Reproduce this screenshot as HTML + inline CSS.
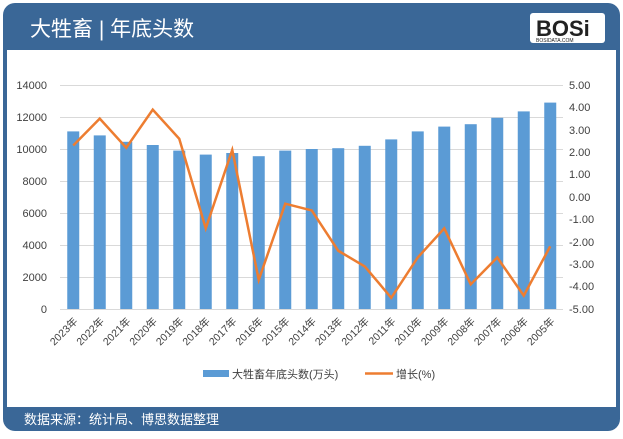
<!DOCTYPE html>
<html><head><meta charset="utf-8"><style>
body{margin:0;width:623px;height:434px;background:#fff;overflow:hidden;font-family:"Liberation Sans","Noto Sans CJK SC",sans-serif}
</style></head><body>
<svg width="623" height="434" xmlns="http://www.w3.org/2000/svg" font-family="Liberation Sans, Noto Sans CJK SC, sans-serif">
<rect x="3" y="3" width="617" height="428" rx="12" fill="#3a6797"/>
<rect x="7" y="50" width="609" height="357" fill="#fff"/>
<text x="30" y="36" fill="#fff" font-size="21">大牲畜 | 年底头数</text>
<rect x="530" y="13" width="75" height="30" rx="3" fill="#fff"/>
<text x="536" y="36" font-size="22" font-weight="bold" fill="#222">BOSi</text>
<text x="536" y="42" font-size="5" fill="#222">BOSIDATA.COM</text>
<text x="24" y="424" fill="#fff" font-size="13">数据来源：统计局、博思数据整理</text>
<g stroke="#d9d9d9" stroke-width="1">
<line x1="60" y1="85.5" x2="563" y2="85.5"/><line x1="60" y1="117.5" x2="563" y2="117.5"/>
<line x1="60" y1="149.5" x2="563" y2="149.5"/><line x1="60" y1="181.5" x2="563" y2="181.5"/>
<line x1="60" y1="213.5" x2="563" y2="213.5"/><line x1="60" y1="245.5" x2="563" y2="245.5"/>
<line x1="60" y1="277.5" x2="563" y2="277.5"/><line x1="60" y1="309.5" x2="563" y2="309.5"/>
</g>
<g font-size="11" fill="#404040" text-anchor="end">
<text x="47" y="89">14000</text><text x="47" y="121">12000</text><text x="47" y="153">10000</text>
<text x="47" y="185">8000</text><text x="47" y="217">6000</text><text x="47" y="249">4000</text>
<text x="47" y="281">2000</text><text x="47" y="313">0</text>
</g>
<g font-size="11" fill="#404040">
<text x="569" y="89">5.00</text><text x="569" y="111">4.00</text><text x="569" y="134">3.00</text>
<text x="569" y="156">2.00</text><text x="569" y="178">1.00</text><text x="569" y="201">0.00</text>
<text x="569" y="223">-1.00</text><text x="569" y="246">-2.00</text><text x="569" y="268">-3.00</text>
<text x="569" y="290">-4.00</text><text x="569" y="313">-5.00</text>
</g>
<g fill="#5b9bd5" id="bars"></g>
<polyline id="ln" fill="none" stroke="#ed7d31" stroke-width="2.5" points=""/>
<g id="lbl" font-size="10.5" fill="#404040"></g>
<rect x="203" y="370" width="26" height="7" fill="#5b9bd5"/>
<text x="232" y="378" font-size="11" fill="#404040">大牲畜年底头数(万头)</text>
<line x1="365" y1="373.5" x2="393" y2="373.5" stroke="#ed7d31" stroke-width="2.5"/>
<text x="396" y="378" font-size="11" fill="#404040">增长(%)</text>
</svg>
<script>
var yrs=[2023,2022,2021,2020,2019,2018,2017,2016,2015,2014,2013,2012,2011,2010,2009,2008,2007,2006,2005];
var b=[11100,10850,10450,10250,9900,9650,9750,9550,9900,10000,10050,10200,10600,11100,11400,11550,11950,12350,12900];
var g=[2.3,3.5,2.2,3.9,2.6,-1.4,2.1,-3.7,-0.3,-0.6,-2.4,-3.1,-4.5,-2.7,-1.4,-3.9,-2.7,-4.4,-2.2];
var ns="http://www.w3.org/2000/svg",bars=document.getElementById('bars'),lbl=document.getElementById('lbl'),pts=[];
for(var i=0;i<19;i++){var cx=60+26.5*(i+0.5);
var r=document.createElementNS(ns,'rect');var h=b[i]*0.016;
r.setAttribute('x',cx-6);r.setAttribute('y',309-h);r.setAttribute('width',12);r.setAttribute('height',h);bars.appendChild(r);
pts.push(cx+','+(197-g[i]*22.4));
var t=document.createElementNS(ns,'text');t.setAttribute('transform','translate('+(cx+5)+',322) rotate(-45)');t.setAttribute('text-anchor','end');t.textContent=yrs[i]+'年';lbl.appendChild(t);}
document.getElementById('ln').setAttribute('points',pts.join(' '));
</script>
</body></html>
